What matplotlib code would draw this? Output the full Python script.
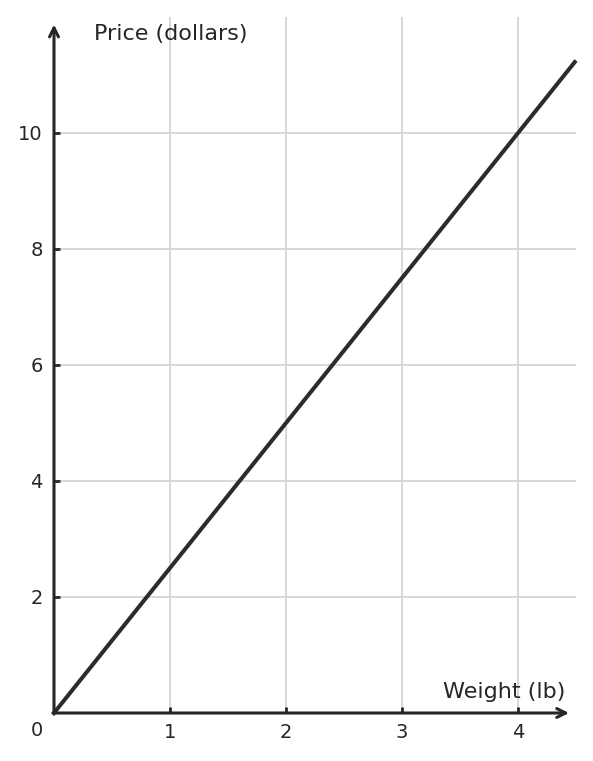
import matplotlib
matplotlib.use("Agg")
import matplotlib.pyplot as plt
import numpy as np

weight = [0, 4.5]
price = [0, 11.25]
x_ticks = [1, 2, 3, 4]
y_ticks = [2, 4, 6, 8, 10]
x_label = "Weight (lb)"
y_label = "Price (dollars)"

W, H = 593, 761
fig = plt.figure(figsize=(W / 100, H / 100), dpi=100)
ax = fig.add_axes([54 / W, (H - 713) / H, (576 - 54) / W, (713 - 17) / H])
ax.set_xlim(0, 4.5)
ax.set_ylim(0, 12)

dark = "#262626"
ax.grid(True, color="#d4d4d4", linewidth=1.3)
ax.set_axisbelow(True)
for s in ax.spines.values():
    s.set_visible(False)

ax.set_xticks(x_ticks)
ax.set_yticks(y_ticks)
ax.tick_params(direction="in", length=4, width=2, color=dark, labelsize=14,
               labelcolor=dark)
ax.tick_params(axis="x", pad=7)
ax.tick_params(axis="y", pad=8)

ax.plot(weight, price, color="#2b2b2b", linewidth=2.9, solid_capstyle="butt",
        clip_on=False, zorder=3)

# axes with arrows
ax.annotate("", xy=(4.44, 0), xytext=(-0.01, 0), xycoords="data",
            arrowprops=dict(arrowstyle="->", color=dark, lw=2.2,
                            mutation_scale=16, shrinkA=0, shrinkB=0),
            annotation_clip=False)
ax.annotate("", xy=(0, 11.87), xytext=(0, -0.02), xycoords="data",
            arrowprops=dict(arrowstyle="->", color=dark, lw=2.2,
                            mutation_scale=16, shrinkA=0, shrinkB=0),
            annotation_clip=False)

ax.text(-0.15, -0.31, "0", ha="center", va="center", fontsize=14, color=dark,
        clip_on=False)
ax.text(4.405, 0.37, x_label, ha="right", va="center", fontsize=16, color=dark)
ax.text(0.345, 11.7, y_label, ha="left", va="center", fontsize=16, color=dark)

fig.savefig("out.png", dpi=100, facecolor="white")
